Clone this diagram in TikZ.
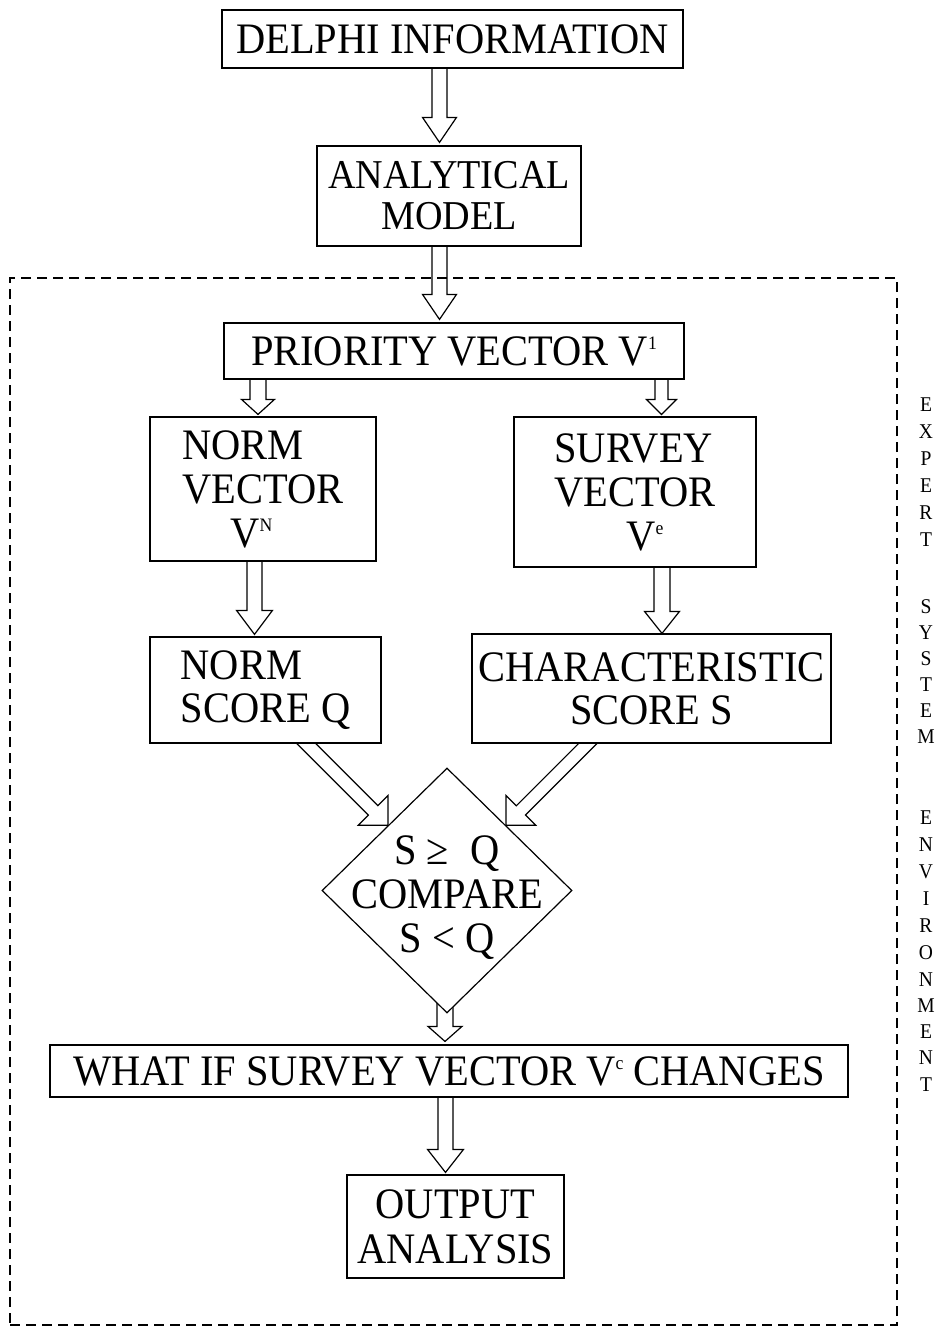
\documentclass[tikz,border=0pt]{standalone}
\usepackage{fontspec}
\setmainfont{Liberation Serif}[FakeStretch=0.93]
\usetikzlibrary{calc,shapes.geometric,backgrounds}
\newcommand\mysup[1]{\raisebox{16pt}{\fontsize{19}{19}\selectfont #1}}
\newcommand\blockarrow[5]{%
  \path (#1) coordinate (ba-s) (#2) coordinate (ba-t);
  \coordinate (ba-b) at ($(ba-t)!#5!(ba-s)$);
  \filldraw[blk] ($(ba-s)!#3!90:(ba-t)$) -- ($(ba-b)!#3!90:(ba-t)$) -- ($(ba-b)!#4!90:(ba-t)$) -- (ba-t)
     -- ($(ba-b)!#4!-90:(ba-t)$) -- ($(ba-b)!#3!-90:(ba-t)$) -- ($(ba-s)!#3!-90:(ba-t)$);
}
\begin{document}
\begin{tikzpicture}[x=1pt,y=-1pt,
  box/.style={draw,line width=1.2pt,fill=white,inner sep=0pt,align=center,
              font=\fontsize{43.5}{44}\selectfont},
  blk/.style={draw,line width=1.2pt,fill=white,line join=miter},
  frame/.style={draw,line width=1.2pt,dash pattern=on 10pt off 6pt},
  vl/.style={inner sep=0pt,font=\fontsize{21}{21}\selectfont}]
\useasboundingbox (0,0) rectangle (941,1334);

% boxes
\node[box,minimum width=461pt,minimum height=58pt] (delphi) at (452.5,39) {DELPHI INFORMATION};
\node[box,minimum width=264pt,minimum height=100pt,font=\fontsize{41}{41}\selectfont] (model) at (449,196) {ANALYTICAL\\MODEL};
\node[box,minimum width=460pt,minimum height=56pt] (prio) at (454,351) {PRIORITY VECTOR V\mysup{1}};
\node[box,minimum width=226pt,minimum height=144pt,align=left] (normvec) at (263,489) {NORM\\VECTOR\\\hspace*{48pt}V\mysup{N}};
\node[box,minimum width=242pt,minimum height=150pt,align=left] (survey) at (635,492) {SURVEY\\VECTOR\\\hspace*{72pt}V\mysup{e}};
\node[box,minimum width=231pt,minimum height=106pt,align=left,font=\fontsize{43.5}{43}\selectfont] (normscore) at (265.5,690) {NORM\\SCORE Q};
\node[box,minimum width=359pt,minimum height=109pt,font=\fontsize{43.5}{43}\selectfont] (charscore) at (651.5,688.5) {CHARACTERISTIC\\SCORE S};
\node[diamond,draw,line width=1.2pt,fill=white,inner sep=0pt,minimum width=250pt,minimum height=245pt] (dia) at (447,890.5) {};
\node[inner sep=0pt,align=center,font=\fontsize{43.5}{44}\selectfont] (diatxt) at ([yshift=-7pt]dia.center) {S ≥\enspace Q\\COMPARE\\S < Q};
\node[box,minimum width=798pt,minimum height=52pt] (whatif) at (449,1071) {WHAT IF SURVEY VECTOR V\mysup{c} CHANGES};
\node[box,minimum width=217pt,minimum height=103pt,font=\fontsize{43.5}{45}\selectfont] (output) at (455.5,1226.5) {OUTPUT\\ANALYSIS};

% environment frame
\node[frame,inner sep=0pt,minimum width=887pt,minimum height=1047pt] (env) at (453.5,801.5) {};

% vertical label
\foreach \l/\yy [count=\i] in {E/405,X/432,P/459,E/486,R/513,T/540,
   S/607,Y/633,S/659,T/685,E/711,M/737,
   E/818,N/845,V/872,I/899,R/926,O/953,N/980,M/1006,E/1032,N/1058,T/1085}
  \node[vl] (vl\i) at (926,\yy) {\l};

% arrows
\coordinate (tipL) at ($(dia.north)!0.47!(dia.west)$);
\coordinate (tipR) at ($(dia.north)!0.47!(dia.east)$);
\begin{scope}[on background layer]
\blockarrow{[xshift=-13pt]delphi.south}{[xshift=-9.5pt,yshift=3pt]model.north}{7.5pt}{17pt}{25pt}
\blockarrow{[xshift=-9.5pt]model.south}{[xshift=-14.5pt,yshift=3pt]prio.north}{7.5pt}{17pt}{25pt}
\blockarrow{[xshift=-196pt]prio.south}{[xshift=-5pt,yshift=2pt]normvec.north}{8pt}{16.5pt}{15pt}
\blockarrow{[xshift=207.5pt]prio.south}{[xshift=26.5pt,yshift=2pt]survey.north}{6.5pt}{15pt}{15pt}
\blockarrow{[xshift=-8.5pt]normvec.south}{[xshift=-11pt,yshift=2pt]normscore.north}{7.5pt}{18pt}{24pt}
\blockarrow{[xshift=27pt]survey.south}{[xshift=10.5pt]charscore.north}{8pt}{17.5pt}{22pt}
\blockarrow{$(tipL)+(-100,-100)$}{tipL}{6.7pt}{21pt}{21pt}
\blockarrow{$(tipR)+(100,-100)$}{tipR}{6.5pt}{21pt}{21pt}
\blockarrow{[xshift=-2pt]dia.center}{[xshift=-4pt,yshift=3pt]whatif.north}{8pt}{17pt}{15pt}
\blockarrow{[xshift=-3.5pt]whatif.south}{[xshift=-10pt,yshift=2pt]output.north}{7.5pt}{18pt}{23pt}
\end{scope}
\end{tikzpicture}
\end{document}
